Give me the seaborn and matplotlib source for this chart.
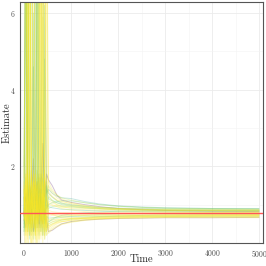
import numpy as np
import pandas as pd
import matplotlib
matplotlib.use('Agg')
import matplotlib.pyplot as plt
import seaborn as sns

# time grid shared by all runs
times = [0, 40, 80, 120, 160, 200, 240, 280, 320, 360, 400, 440, 480,
         520, 600, 700, 800, 1000, 1300, 1600, 2000, 2500, 3000, 4000, 5000]

# estimate trajectories (early part is very noisy)
run01 = [1.0, 8.5, 0.2, 1.3, 1.4, 12.0, -0.4, 0.9, 0.8, 10.0, 0.5, 1.7, 0.9,
         1.25, 1.1, 1.0, 0.95, 0.9, 0.87, 0.85, 0.83, 0.82, 0.81, 0.80, 0.80]
run02 = [0.5, -0.6, 10.0, 0.3, 1.1, 1.6, 0.6, -0.2, 11.0, 1.3, 0.2, 0.9, 0.4,
         0.45, 0.5, 0.54, 0.56, 0.58, 0.61, 0.63, 0.65, 0.66, 0.67, 0.68, 0.68]
run03 = [2.0, 9.0, 0.9, 0.1, 1.0, 1.5, 13.0, 0.4, 1.2, 1.8, 1.6, 0.3, 1.4,
         1.15, 1.1, 1.05, 1.02, 0.98, 0.95, 0.92, 0.9, 0.88, 0.87, 0.86, 0.85]
run04 = [0.9, 1.8, -0.5, 9.5, 0.7, 0.2, 1.2, 1.0, 0.0, 12.5, 0.8, 1.2, 7.5,
         0.25, 0.35, 0.42, 0.48, 0.54, 0.59, 0.62, 0.64, 0.65, 0.66, 0.66, 0.66]
run05 = [0.6, 11.0, 1.3, 0.5, 1.9, 1.1, 0.1, 1.5, 8.5, 0.6, 5.9, 0.2, 1.1,
         1.5, 1.35, 1.25, 1.18, 1.12, 1.05, 1.0, 0.96, 0.93, 0.91, 0.89, 0.88]
run06 = [1.2, 0.4, 7.2, 1.6, -0.3, 1.0, 1.1, 0.5, 1.7, 9.0, 0.3, 1.0, 0.7,
         0.6, 0.65, 0.68, 0.7, 0.72, 0.73, 0.74, 0.74, 0.75, 0.75, 0.75, 0.75]
run07 = [0.7, 6.9, 0.3, 1.2, 0.8, 4.6, 0.9, 12.0, 0.5, 1.4, 0.2, 6.2, 1.3,
         1.4, 1.3, 1.22, 1.18, 1.16, 1.08, 1.02, 0.97, 0.94, 0.92, 0.90, 0.89]
run08 = [1.5, 0.0, 1.0, 13.0, 0.6, 1.8, 0.2, 1.2, 1.3, 0.4, 10.0, 0.9, 0.5,
         0.35, 0.42, 0.5, 0.55, 0.6, 0.64, 0.66, 0.68, 0.69, 0.7, 0.7, 0.71]
run09 = [0.3, 1.6, 8.8, 0.7, 1.1, 0.1, 1.5, 0.9, 7.0, 0.3, 1.9, 0.6, 1.0,
         0.9, 0.95, 0.97, 0.96, 0.94, 0.91, 0.89, 0.87, 0.86, 0.85, 0.84, 0.84]
run10 = [0.8, 1.5, 0.5, -0.7, 1.3, 0.8, 9.5, 0.2, 1.0, 0.6, 1.4, 13.0, 0.2,
         1.05, 1.0, 0.95, 0.9, 0.86, 0.82, 0.8, 0.79, 0.78, 0.78, 0.78, 0.78]
run11 = [1.1, 1.4, 0.3, 8.2, 1.2, -0.2, 1.6, 1.1, 0.7, 0.1, 1.8, 0.4, 1.0,
         0.8, 0.75, 0.7, 0.67, 0.65, 0.64, 0.64, 0.65, 0.66, 0.67, 0.67, 0.67]
run12 = [0.4, 7.8, 1.7, 0.6, 9.2, 1.0, 0.3, 1.9, 1.5, 0.8, 11.0, 0.6, 1.6,
         0.55, 0.62, 0.68, 0.72, 0.76, 0.79, 0.81, 0.83, 0.84, 0.84, 0.85, 0.85]
run13 = [0.9, 0.2, 12.0, 1.0, 0.4, 1.5, 1.6, 0.0, 1.2, 0.8, 0.5, 1.7, 10.0,
         1.6, 1.4, 1.25, 1.15, 1.06, 0.98, 0.94, 0.9, 0.87, 0.85, 0.84, 0.83]
run14 = [1.3, 9.3, 0.8, 1.5, -0.4, 1.4, 0.7, 1.1, 0.3, 12.0, 0.9, 0.1, 1.2,
         0.7, 0.72, 0.73, 0.73, 0.72, 0.72, 0.72, 0.72, 0.72, 0.72, 0.72, 0.72]
run15 = [0.2, 1.1, 1.6, 10.5, 0.4, 0.9, 1.3, 6.6, 0.6, 1.5, 1.7, 0.8, 0.3,
         0.5, 0.55, 0.58, 0.6, 0.62, 0.65, 0.68, 0.7, 0.72, 0.73, 0.74, 0.74]
run16 = [1.0, 0.5, 1.9, 0.3, 14.0, 1.1, 0.6, 1.4, 1.6, 0.2, 1.0, 7.9, 1.5,
         1.3, 1.2, 1.12, 1.08, 1.03, 0.97, 0.93, 0.9, 0.88, 0.87, 0.86, 0.86]
run17 = [0.8, 1.2, 0.9, 1.5, 1.1, 2.2, 1.0, 1.6, 0.7, 1.3, 2.6, 1.2, 1.8,
         1.65, 1.5, 1.25, 1.12, 1.06, 1.0, 0.95, 0.9, 0.87, 0.85, 0.83, 0.82]
run18 = [0.6, 0.4, 1.0, 0.5, 0.9, 0.3, 0.7, 1.1, 0.4, 0.8, 0.5, 0.9, 0.6,
         0.3, 0.33, 0.42, 0.5, 0.56, 0.6, 0.62, 0.64, 0.65, 0.66, 0.66, 0.67]
run19 = [0.7, 1.7, 0.1, 1.2, 0.9, 13.5, 0.4, 1.8, 0.6, 1.1, 7.1, 0.2, 0.8,
         0.4, 0.46, 0.52, 0.56, 0.6, 0.63, 0.65, 0.67, 0.68, 0.69, 0.7, 0.7]
run20 = [1.4, 0.6, 8.0, 1.0, 0.2, 1.6, 0.5, 10.2, 1.4, 0.7, 0.0, 1.2, 0.3,
         1.1, 1.05, 1.0, 0.97, 0.95, 0.93, 0.91, 0.9, 0.89, 0.88, 0.88, 0.88]
run21 = [0.5, 12.5, 0.8, 0.2, 1.4, 0.9, 8.9, 0.4, 1.7, 0.3, 1.2, 4.8, 0.9,
         1.0, 1.05, 1.08, 1.1, 1.1, 1.05, 1.0, 0.96, 0.93, 0.91, 0.9, 0.9]
run22 = [1.2, 0.3, 1.5, 7.4, 0.9, 0.5, 1.8, 1.3, 0.1, 0.8, 13.0, 1.5, 0.6,
         0.6, 0.6, 0.61, 0.62, 0.63, 0.65, 0.67, 0.69, 0.7, 0.71, 0.72, 0.72]
run23 = [0.6, 1.9, 1.1, 0.4, 10.8, 1.7, 0.2, 1.4, 0.9, 1.6, 0.4, 1.4, 12.0,
         1.45, 1.3, 1.18, 1.1, 1.02, 0.95, 0.9, 0.86, 0.84, 0.82, 0.81, 0.81]
run24 = [1.7, 8.1, 0.6, 1.9, 0.3, 1.2, 1.5, 0.8, 12.0, 1.0, 0.6, 1.3, 0.2,
         0.3, 0.38, 0.45, 0.5, 0.55, 0.6, 0.63, 0.66, 0.68, 0.69, 0.7, 0.7]
run25 = [0.9, 1.3, 0.5, 1.7, 0.8, 1.2, 0.4, 1.6, 0.7, 1.1, 0.5, 1.4, 0.8,
         1.2, 1.12, 1.05, 1.0, 0.96, 0.92, 0.9, 0.88, 0.87, 0.86, 0.85, 0.85]
run26 = [1.3, 0.6, 1.8, 0.2, 1.4, 0.7, 1.9, 0.5, 1.2, 0.3, 1.6, 0.9, 0.5,
         0.5, 0.55, 0.6, 0.63, 0.66, 0.68, 0.7, 0.71, 0.72, 0.73, 0.73, 0.74]
run27 = [0.4, 1.0, 9.9, 0.8, 1.5, 0.3, 1.2, 0.6, 1.8, 0.4, 1.1, 0.7, 1.5,
         1.3, 1.2, 1.1, 1.04, 1.0, 0.96, 0.93, 0.91, 0.9, 0.89, 0.88, 0.88]
run28 = [1.6, 0.2, 1.1, 0.7, 1.8, 0.4, 1.0, 1.5, 0.1, 1.3, 0.8, 1.9, 1.0,
         0.85, 0.82, 0.8, 0.79, 0.79, 0.78, 0.78, 0.78, 0.79, 0.79, 0.79, 0.79]
run29 = [0.7, 1.5, 0.4, 1.1, 0.2, 1.7, 0.9, 0.3, 1.4, 0.6, 1.2, 0.1, 0.6,
         0.45, 0.5, 0.56, 0.6, 0.64, 0.67, 0.69, 0.71, 0.72, 0.73, 0.74, 0.74]
run30 = [1.0, 1.8, 0.9, 1.3, 0.5, 1.9, 1.2, 0.6, 1.7, 1.0, 0.4, 1.8, 1.2,
         1.0, 0.98, 0.95, 0.93, 0.92, 0.9, 0.88, 0.87, 0.86, 0.86, 0.85, 0.85]
run31 = [0.3, 0.8, 1.4, 0.5, 1.0, 6.0, 0.6, 1.3, 0.2, 1.7, 0.9, 0.5, 0.7,
         0.65, 0.66, 0.67, 0.68, 0.69, 0.7, 0.7, 0.7, 0.7, 0.7, 0.7, 0.7]
run32 = [1.4, 0.9, 0.3, 1.6, 1.1, 0.4, 1.5, 0.8, 1.9, 0.5, 1.3, 1.0, 1.7,
         1.35, 1.22, 1.12, 1.05, 0.98, 0.93, 0.9, 0.88, 0.86, 0.85, 0.84, 0.83]
run33 = [0.8, 0.3, 1.2, 1.9, 0.6, 1.0, 0.3, 1.7, 0.9, 1.4, 0.2, 0.8, 0.4,
         0.55, 0.6, 0.64, 0.67, 0.7, 0.72, 0.74, 0.76, 0.77, 0.78, 0.79, 0.8]
run34 = [0.5, 1.2, 0.7, 0.4, 1.6, 0.9, 0.2, 1.1, 0.6, 1.8, 0.7, 0.3, 0.9,
         0.75, 0.74, 0.73, 0.73, 0.74, 0.75, 0.76, 0.76, 0.76, 0.76, 0.76, 0.76]
run35 = [1.2, 0.7, 1.6, 0.9, 0.3, 1.4, 1.1, 7.3, 0.5, 1.2, 0.8, 1.6, 1.1,
         0.95, 0.92, 0.9, 0.88, 0.87, 0.85, 0.84, 0.83, 0.82, 0.82, 0.82, 0.82]
run36 = [0.6, 1.7, 1.0, 0.2, 1.3, 0.6, 1.8, 0.4, 1.0, 0.7, 1.5, 0.6, 0.3,
         0.4, 0.48, 0.55, 0.6, 0.64, 0.66, 0.67, 0.68, 0.69, 0.7, 0.71, 0.71]

runs = [run01, run02, run03, run04, run05, run06, run07, run08, run09, run10,
        run11, run12, run13, run14, run15, run16, run17, run18, run19, run20,
        run21, run22, run23, run24, run25, run26, run27, run28, run29, run30,
        run31, run32, run33, run34, run35, run36]
# colour variable of each run (mostly high -> yellow)
weights = [1.0, 1.0, 0.75, 1.0, 0.9, 1.0, 0.55, 1.0, 0.8, 1.0,
           1.0, 0.65, 1.0, 1.0, 0.85, 1.0, 0.0, 0.05, 1.0, 1.0,
           0.7, 1.0, 1.0, 0.95, 0.8, 1.0, 0.6, 1.0, 0.9, 1.0,
           0.7, 1.0, 0.85, 1.0, 0.6, 1.0]
true_value = 0.77

rows = []
for i, (vals, w) in enumerate(zip(runs, weights)):
    for t, v in zip(times, vals):
        rows.append({'run': i, 'weight': w, 'Time': t, 'Estimate': v})
df = pd.DataFrame(rows)

sns.set_style('white')
plt.rcParams['font.family'] = ['cmr10', 'DejaVu Serif']
plt.rcParams['mathtext.fontset'] = 'cm'
plt.rcParams['axes.formatter.use_mathtext'] = True

fig = plt.figure(figsize=(2.66, 2.66), dpi=100)
ax = fig.add_axes([20 / 266, 1 - 243 / 266, 243 / 266, 241 / 266])

sns.lineplot(data=df, x='Time', y='Estimate', hue='weight', units='run',
             estimator=None, palette='viridis', alpha=0.24, linewidth=0.7,
             legend=False, ax=ax)
ax.axhline(true_value, color='#ff5757', linewidth=1.0, zorder=5)

ax.set_xlim(-85, 5085)
ax.set_ylim(0, 6.29)
ax.set_xticks([0, 1000, 2000, 3000, 4000, 5000])
ax.set_yticks([2, 4, 6])
ax.set_xticks([500, 1500, 2500, 3500, 4500], minor=True)
ax.set_yticks([1, 3, 5], minor=True)
ax.grid(True, which='major', color='#ebebeb', linewidth=0.6)
ax.grid(True, which='minor', color='#f3f3f3', linewidth=0.4)
ax.set_axisbelow(True)
ax.tick_params(axis='both', which='major', labelsize=5.5, labelcolor='#4d4d4d',
               color='#555555', length=2.5, width=0.5, pad=1.0)
ax.tick_params(axis='both', which='minor', length=0)
for s in ax.spines.values():
    s.set_color('#555555')
    s.set_linewidth(0.8)
ax.set_xlabel('Time', fontsize=7.5, va='center')
ax.set_ylabel('Estimate', fontsize=7.5, va='center')
ax.xaxis.set_label_coords(0.5, -0.066)
ax.yaxis.set_label_coords(-0.052, 0.5)

fig.savefig('out.png', dpi=100)
